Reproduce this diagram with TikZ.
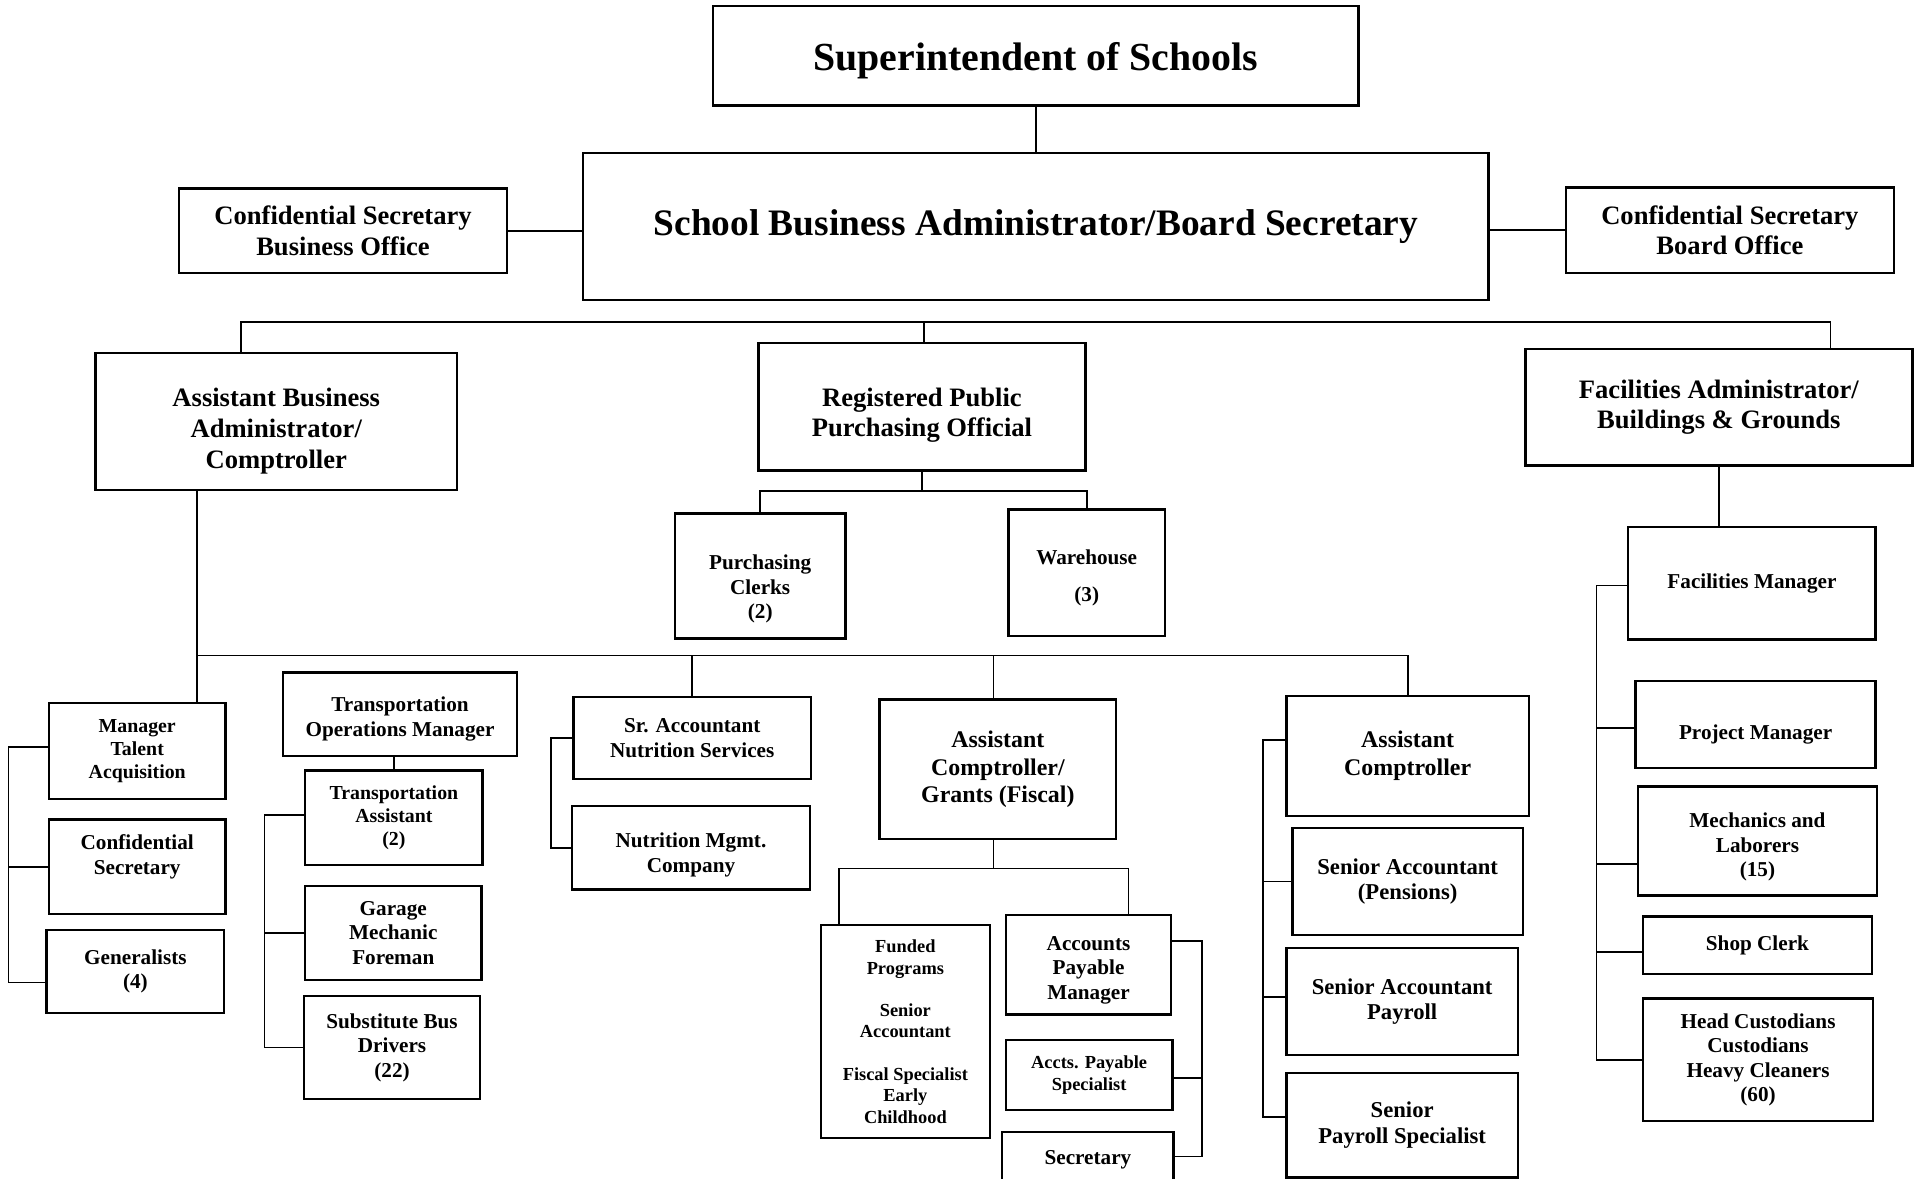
\documentclass[tikz,border=0pt]{standalone}
\usepackage{fontspec}
\setmainfont{Liberation Serif}
\newcommand\tgap[1]{\rule{0pt}{#1}}
\begin{document}
\begin{tikzpicture}[x=1pt,y=-1pt,line width=1.4pt,
  box/.style={draw,line width=2pt,align=center,inner sep=0pt},
  ftitle/.style={font=\fontsize{32.5}{37}\selectfont\bfseries},
  fhead/.style={font=\fontsize{30.5}{35}\selectfont\bfseries},
  fmid/.style={font=\fontsize{21.7}{25}\selectfont\bfseries},
  fsub/.style={font=\fontsize{19.5}{22.5}\selectfont\bfseries},
  fsr/.style={font=\fontsize{18.5}{21}\selectfont\bfseries},
  fsm/.style={font=\fontsize{17.3}{20}\selectfont\bfseries},
  fxs/.style={font=\fontsize{16.2}{19}\selectfont\bfseries},
  ftiny/.style={font=\fontsize{15}{17.5}\selectfont\bfseries}]
  \useasboundingbox (0,0) rectangle (1568,962);
  % top levels
  \node[box,ftitle,minimum width=527pt,minimum height=81pt] (sup) at (845.5,45.5) {\tgap{31pt}Superintendent of Schools};
  \node[box,fhead,minimum width=739pt,minimum height=120pt] (sba) at (845.5,185) {School Business Administrator/Board Secretary};
  \node[box,fmid,minimum width=268pt,minimum height=69pt] (csb) at (280,188.5) {Confidential Secretary\\Business Office};
  \node[box,fmid,minimum width=268pt,minimum height=70pt] (csr) at (1412,188) {Confidential Secretary\\Board Office};
  \node[box,fmid,minimum width=295pt,minimum height=112pt] (aba) at (225.5,344) {\tgap{31pt}Assistant Business\\Administrator/\\Comptroller};
  \node[box,fmid,minimum width=267pt,minimum height=104pt] (rppo) at (752.5,332) {\tgap{29pt}Registered Public\\Purchasing Official};
  \node[box,fmid,minimum width=316pt,minimum height=95pt] (fac) at (1403,332.5) {Facilities Administrator/\\Buildings \& Grounds};
  % purchasing
  \node[box,fsm,minimum width=139pt,minimum height=102pt] (pcl) at (620.5,470) {\tgap{34pt}Purchasing\\Clerks\\(2)};
  \node[box,fsm,minimum width=128pt,minimum height=103pt] (wh) at (887,467.5) {\tgap{20pt}Warehouse\\[10pt](3)};
  % business administrator staff
  \node[box,fxs,minimum width=144pt,minimum height=78pt] (mta) at (112,613) {Manager\\Talent\\Acquisition};
  \node[box,fsm,minimum width=144pt,minimum height=77pt] (csl) at (112,707.5) {Confidential\\Secretary\\~};
  \node[box,fsm,minimum width=145pt,minimum height=68pt] (gen) at (110.5,793) {Generalists\\(4)};
  % transportation
  \node[box,fsm,minimum width=191pt,minimum height=68pt] (tom) at (326.5,583) {\tgap{20pt}Transportation\\Operations Manager};
  \node[box,fxs,minimum width=145pt,minimum height=77pt] (ta) at (321.5,667.5) {Transportation\\Assistant\\(2)};
  \node[box,fsm,minimum width=144pt,minimum height=77pt] (gmf) at (321,761.5) {Garage\\Mechanic\\Foreman};
  \node[box,fsm,minimum width=144pt,minimum height=84pt] (sbd) at (320,855) {Substitute Bus\\Drivers\\(22)};
  % nutrition
  \node[box,fsm,minimum width=194pt,minimum height=67pt] (sra) at (565,602.5) {Sr. Accountant\\Nutrition Services};
  \node[box,fsm,minimum width=194pt,minimum height=68pt] (nmc) at (564,692) {\tgap{24pt}Nutrition Mgmt.\\Company};
  % grants
  \node[box,fsub,minimum width=193pt,minimum height=114pt] (acg) at (814.5,628) {Assistant\\Comptroller/\\Grants (Fiscal)};
  \node[box,ftiny,minimum width=138pt,minimum height=174pt] (fpr) at (739,842) {Funded\\Programs\\[17pt]Senior\\Accountant\\[17pt]Fiscal Specialist\\Early\\Childhood};
  \node[box,fsm,minimum width=135pt,minimum height=81pt] (apm) at (888.5,787.5) {\tgap{20pt}Accounts\\Payable\\Manager};
  \node[box,ftiny,minimum width=136pt,minimum height=57pt] (aps) at (889,877.5) {Accts. Payable\\Specialist};
  \node[box,fsm,minimum width=140pt,minimum height=46pt] (sec) at (888,947) {Secretary};
  % comptroller
  \node[box,fsub,minimum width=198pt,minimum height=98pt] (ac) at (1149,617) {Assistant\\Comptroller};
  \node[box,fsr,minimum width=188pt,minimum height=87pt] (sap) at (1149,719.5) {Senior Accountant\\(Pensions)};
  \node[box,fsr,minimum width=189pt,minimum height=87pt] (sapr) at (1144.5,817.5) {Senior Accountant\\Payroll};
  \node[box,fsr,minimum width=189pt,minimum height=85pt] (sps) at (1144.5,918.5) {Senior\\Payroll Specialist};
  % facilities
  \node[box,fsm,minimum width=202pt,minimum height=92pt] (fm) at (1430,476) {Facilities Manager};
  \node[box,fsm,minimum width=196pt,minimum height=71pt] (pm) at (1433,591.5) {\tgap{28pt}Project Manager};
  \node[box,fsm,minimum width=195pt,minimum height=89pt] (mech) at (1434.5,686.5) {\tgap{22pt}Mechanics and\\Laborers\\(15)};
  \node[box,fsm,minimum width=187pt,minimum height=47pt] (shop) at (1434.5,771.5) {Shop Clerk};
  \node[box,fsm,minimum width=188pt,minimum height=100pt] (hc) at (1435,865) {Head Custodians\\Custodians\\Heavy Cleaners\\(60)};

  % connectors
  \coordinate (bus) at (754,263);
  \coordinate (jb) at (161,535);
  \draw (sup.south) -- (sba.north);
  \draw (csb.east) -- (csb.east -| sba.west);
  \draw (csr.west) -- (csr.west -| sba.east);
  \draw ([xshift=-28.5pt]aba.north) |- (bus) -| ([xshift=91pt]fac.north);
  \draw (bus) -- (bus |- rppo.north);
  \draw (rppo.south) -- ++(0,16) coordinate (rj);
  \draw (pcl.north) |- (rj) -| (wh.north);
  \draw ([xshift=-64.5pt]aba.south) -- (jb |- mta.north);
  \draw (jb) -| (sra.north) (jb) -| ([xshift=-3.5pt]acg.north) (jb) -| (ac.north);
  \draw (ta.north) -- (ta.north |- tom.south);
  \draw ([xshift=-3.5pt]acg.south) -- ++(0,23) coordinate (gj);
  \draw ([xshift=-54pt]fpr.north) |- (gj) -| ([xshift=32.5pt]apm.north);
  \draw (fac.south) -- (fac.south |- fm.north);
  % brackets
  \draw ([yshift=3pt]mta.west) -- ++(-32,0) |- ([yshift=-9pt]gen.west);
  \draw (csl.west) -- ++(-32,0);
  \draw ([yshift=2.5pt]ta.west) -- ++(-32,0) |- (sbd.west);
  \draw (gmf.west) -- ++(-32,0);
  \draw (sra.west) -- ++(-17,0) |- (nmc.west);
  \draw ([yshift=19.5pt]apm.east) -- ++(24,0) |- ([yshift=3pt]sec.east);
  \draw ([yshift=-2.5pt]aps.east) -- ++(23,0);
  \draw ([yshift=13pt]ac.west) -- ++(-18,0) |- ([yshift=6.5pt]sps.west);
  \draw (sap.west) -- ++(-23,0);
  \draw ([yshift=3.5pt]sapr.west) -- ++(-18,0);
  \draw ([yshift=-2pt]fm.west) -- ++(-25,0) |- (hc.west);
  \draw ([yshift=-2.5pt]pm.west) -- ++(-31,0);
  \draw ([yshift=-18.5pt]mech.west) -- ++(-33,0);
  \draw ([yshift=-5.5pt]shop.west) -- ++(-37,0);
\end{tikzpicture}
\end{document}
